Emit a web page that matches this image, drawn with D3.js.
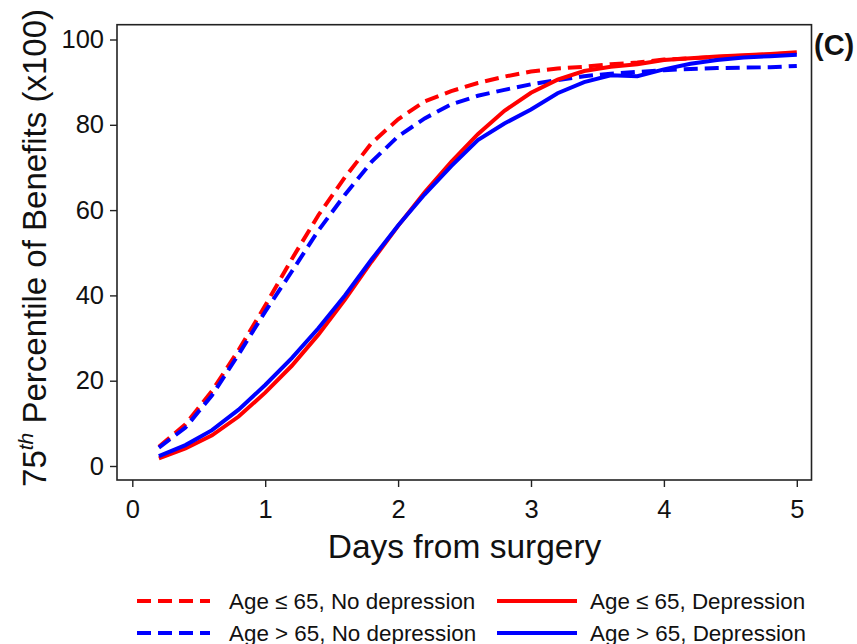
<!DOCTYPE html>
<html>
<head>
<meta charset="utf-8">
<script src="https://cdn.jsdelivr.net/npm/d3@7"></script>
<style>
  body { margin: 0; background: #fff; }
  text { font-family: "Liberation Sans", Arial, sans-serif; fill: #111; }
</style>
</head>
<body>
<svg id="chart"></svg>
<script>
// days from surgery, one point every 0.2 day
const days = [0.2, 0.4, 0.6, 0.8, 1.0, 1.2, 1.4, 1.6, 1.8, 2.0, 2.2, 2.4, 2.6,
  2.8, 3.0, 3.2, 3.4, 3.6, 3.8, 4.0, 4.2, 4.4, 4.6, 4.8, 5.0];

// 75th percentile of benefits (x100)
const youngNoDep = [4.5, 9.8, 17.6, 27.2, 37.6, 48.5, 58.8, 67.7, 75.7, 81.3, 85.5, 87.9, 89.8,
  91.3, 92.5, 93.2, 93.6, 94.2, 94.6, 95.3, 95.6, 95.9, 96.2, 96.5, 96.8];
const oldNoDep = [4.3, 9.0, 16.6, 26.2, 36.2, 45.6, 55.2, 63.6, 71.3, 77.3, 81.5, 84.8, 86.8,
  88.2, 89.5, 90.5, 91.4, 92.0, 92.4, 92.8, 93.1, 93.3, 93.4, 93.5, 93.8];
const youngDep = [1.8, 4.1, 7.2, 11.6, 17.2, 23.5, 30.8, 39.0, 47.9, 56.3, 64.2, 71.3, 77.8,
  83.3, 87.5, 90.6, 92.6, 93.6, 94.2, 95.2, 95.6, 96.0, 96.3, 96.6, 97.0];
const oldDep = [2.3, 4.9, 8.4, 13.2, 19.0, 25.3, 32.3, 40.0, 48.4, 56.4, 63.7, 70.3, 76.4,
  80.3, 83.6, 87.4, 90.0, 91.6, 91.4, 93.0, 94.3, 95.2, 95.8, 96.1, 96.4];

const xTicks = [0, 1, 2, 3, 4, 5];
const yTicks = [0, 20, 40, 60, 80, 100];

const series = [
  { name: "Age \u2264 65, No depression", values: youngNoDep, color: "#ff0000", dashed: true },
  { name: "Age > 65, No depression", values: oldNoDep, color: "#0000ff", dashed: true },
  { name: "Age \u2264 65, Depression", values: youngDep, color: "#ff0000", dashed: false },
  { name: "Age > 65, Depression", values: oldDep, color: "#0000ff", dashed: false },
];

const width = 857, height = 644;
const svg = d3.select("#chart").attr("width", width).attr("height", height);

// Scales
const xscale = d3.scaleLinear().domain([0, 5]).range([132.3, 796.8]);
const yscale = d3.scaleLinear().domain([0, 100]).range([466, 39.5]);

// plot frame
const frame = { left: 117, right: 811.5, top: 24.7, bottom: 480 };

const line = d3.line()
  .x((d, i) => xscale(days[i]))
  .y((d) => yscale(d));

svg.append("g")
  .selectAll("path")
  .data(series)
  .join("path")
  .attr("d", (d) => line(d.values))
  .attr("fill", "none")
  .attr("stroke", (d) => d.color)
  .attr("stroke-width", 4)
  .attr("stroke-dasharray", (d) => (d.dashed ? "14,7" : null));

svg.append("rect")
  .attr("x", frame.left)
  .attr("y", frame.top)
  .attr("width", frame.right - frame.left)
  .attr("height", frame.bottom - frame.top)
  .attr("fill", "none")
  .attr("stroke", "#222")
  .attr("stroke-width", 1.6);

// Axis setup
const yaxis = d3.axisLeft(yscale).tickValues(yTicks).tickSize(7).tickPadding(6);
const g_yaxis = svg.append("g")
  .attr("transform", `translate(${frame.left},0)`)
  .call(yaxis);
g_yaxis.select(".domain").remove();
g_yaxis.selectAll("line").attr("stroke", "#222").attr("stroke-width", 1.4);
g_yaxis.selectAll("text").style("font-size", "25.5px").attr("fill", "#111");

const xaxis = d3.axisBottom(xscale).tickValues(xTicks).tickFormat(d3.format("d"))
  .tickSize(7).tickPadding(13);
const g_xaxis = svg.append("g")
  .attr("transform", `translate(0,${frame.bottom})`)
  .call(xaxis);
g_xaxis.select(".domain").remove();
g_xaxis.selectAll("line").attr("stroke", "#222").attr("stroke-width", 1.4);
g_xaxis.selectAll("text").style("font-size", "25.5px").attr("fill", "#111");

// axis titles
svg.append("text")
  .attr("x", (xscale(0) + xscale(5)) / 2)
  .attr("y", 558)
  .attr("text-anchor", "middle")
  .style("font-size", "33.5px")
  .text("Days from surgery");

const ylab = svg.append("text")
  .attr("transform", "translate(46,248) rotate(-90)")
  .attr("text-anchor", "middle")
  .style("font-size", "33px");
ylab.append("tspan").text("75");
ylab.append("tspan")
  .attr("dy", -13)
  .style("font-size", "21px")
  .style("font-style", "italic")
  .text("th");
ylab.append("tspan")
  .attr("dy", 13)
  .text(" Percentile of Benefits (x100)");

// panel letter
svg.append("text")
  .attr("x", 814)
  .attr("y", 55)
  .style("font-size", "29px")
  .style("font-weight", "bold")
  .text("(C)");

// legend, 2 columns x 2 rows
const legendPos = [
  { x: 137, y: 601, len: 73, tx: 92 },
  { x: 137, y: 633, len: 73, tx: 92 },
  { x: 497, y: 601, len: 80, tx: 93 },
  { x: 497, y: 633, len: 80, tx: 93 },
];

const legend = svg.append("g")
  .selectAll("g")
  .data(series)
  .join("g")
  .attr("transform", (d, i) => `translate(${legendPos[i].x},${legendPos[i].y})`);

legend.append("line")
  .attr("x1", 0)
  .attr("x2", (d, i) => legendPos[i].len)
  .attr("y1", 0)
  .attr("y2", 0)
  .attr("stroke", (d) => d.color)
  .attr("stroke-width", 4)
  .attr("stroke-dasharray", (d) => (d.dashed ? "14,7" : null));

legend.append("text")
  .attr("x", (d, i) => legendPos[i].tx)
  .attr("y", 8)
  .style("font-size", "22.4px")
  .text((d) => d.name);
</script>
</body>
</html>
